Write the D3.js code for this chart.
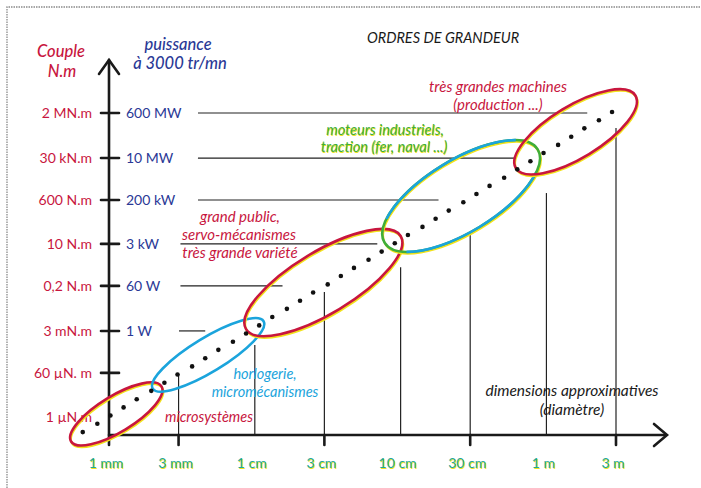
<!DOCTYPE html>
<html><head><meta charset="utf-8">
<script src="https://cdn.jsdelivr.net/npm/d3@7"></script>
<style>
html,body{margin:0;padding:0;background:#fff;}
svg{display:block;font-family:Lato,'Open Sans',sans-serif;}
</style></head>
<body><svg id="c" width="701" height="488"></svg>
<script>
// ---------- DATA ----------
const sizeTicks = [1, 3, 10, 30, 100, 300, 1000, 3000];               // mm
const sizeLabels = ["1 mm","3 mm","1 cm","3 cm","10 cm","30 cm","1 m","3 m"];
const sizeTickMark = [false, true, false, true, false, true, false, true];
const sizeGuideTop = [null, -4.27, -3.09, -0.95, 0.06, 1.36, 3.06, 5.69]; // log10 N.m

const torqueTicks = [1e-6, 6e-5, 3e-3, 0.2, 10, 600, 3e4, 2e6];       // N.m
const torqueLabels = ["1 µN.m","60 µN. m","3 mN.m","0,2 N.m","10 N.m","600 N.m","30 kN.m","2 MN.m"];
const torqueTickMark = [false, true, true, true, true, true, true, true];
const powerLabels = ["", "", "1 W", "60 W", "3 kW", "200 kW", "10 MW", "600 MW"];
const powerGuideStart = [null, null, 0.48, 0.49, 0.49, 0.61, 0.61, 0.61]; // log10 mm
const powerGuideEnd   = [null, null, 0.66, 1.19, 1.84, 2.26, 2.78, 3.28]; // log10 mm

// dotted trend (log10 mm, log10 N.m)
const dotLogSize = [-0.18,-0.08,0.01,0.10,0.19,0.29,0.38,0.47,0.57,0.66,0.75,0.85,0.94,1.03,1.12,1.22,1.31,1.40,1.50,1.59,
                    1.68,1.78,1.87,1.96,2.05,2.15,2.24,2.33,2.43,2.52,2.61,2.71,2.80,2.89,2.98,3.08,3.17,3.26,3.36,3.45];
const dotLogTorque = [-6.62,-6.28,-5.95,-5.62,-5.29,-4.95,-4.62,-4.29,-3.96,-3.63,-3.29,-2.96,-2.63,-2.30,-1.96,-1.63,-1.30,-0.97,-0.64,-0.30,
                      0.03,0.36,0.69,1.03,1.36,1.69,2.02,2.35,2.69,3.02,3.35,3.68,4.02,4.35,4.68,5.01,5.34,5.68,6.01,6.34];

// domains of application: major-axis ends (log10 mm, log10 N.m)
const domainNames = ["microsystèmes","horlogerie","grand public","moteurs industriels","très grandes machines"];
const domainSizeFrom   = [-0.26, 0.30, 0.94, 1.89, 2.79];
const domainSizeTo     = [ 0.36, 1.06, 2.00, 2.94, 3.61];
const domainTorqueFrom = [-7.00,-4.86,-2.45, 1.05, 4.07];
const domainTorqueTo   = [-4.77,-2.13, 1.32, 4.83, 7.01];

// ---------- STYLE ----------
const RED = "#c8163e", BLUE = "#2a3996", CYAN = "#1ba4dc", GREEN = "#3fae3a", YEL = "#f2e21c", TEAL = "#1ea79a";
const domainColor = [RED, CYAN, RED, "mix", RED];
const domainThickness = [18, 17, 31, 36, 26];

const svg = d3.select("#c");
const x = d3.scaleLinear().domain([0, Math.log10(3000)]).range([109, 616]);
const y = d3.scaleLinear().domain([-6, Math.log10(2e6)]).range([416.8, 113]);
const X = v => x(Math.log10(v)), Y = v => y(Math.log10(v));
const x0 = x(0), yBase = 435;

// frame
svg.append("path").attr("d", d3.line()([[7,488],[7,7],[701,7]]))
  .attr("fill","none").attr("stroke","#8a8a8a").attr("stroke-width",1.3).attr("stroke-dasharray","1.5 1");

// guide lines
const gH = svg.append("g").attr("stroke","#222").attr("stroke-width",1.2);
torqueTicks.forEach((t,i)=>{
  if(powerGuideEnd[i]==null) return;
  gH.append("line").attr("x1", x(powerGuideStart[i])).attr("x2", x(powerGuideEnd[i]))
    .attr("y1", Y(t)).attr("y2", Y(t));
});
sizeTicks.forEach((s,i)=>{
  if(sizeGuideTop[i]==null) return;
  gH.append("line").attr("x1", X(s)).attr("x2", X(s)).attr("y1", y(sizeGuideTop[i])).attr("y2", yBase);
});

// axes
const ax = svg.append("g").attr("stroke","#1a1a1a").attr("stroke-width",2.6).attr("fill","none").attr("stroke-linecap","round");
ax.append("line").attr("x1",x0).attr("x2",x0).attr("y1",60).attr("y2",445);
ax.append("path").attr("d", d3.line()([[x0-10,74],[x0,60],[x0+10,74]])).attr("stroke-linejoin","miter");
ax.append("line").attr("x1",x0).attr("x2",666).attr("y1",yBase).attr("y2",yBase);
ax.append("path").attr("d", d3.line()([[654,424],[667,435],[654,446]]));
torqueTicks.forEach((t,i)=>{ if(torqueTickMark[i]) ax.append("line").attr("x1",x0-8).attr("x2",x0+10).attr("y1",Y(t)).attr("y2",Y(t)); });
sizeTicks.forEach((s,i)=>{ if(sizeTickMark[i]) ax.append("line").attr("x1",X(s)).attr("x2",X(s)).attr("y1",yBase).attr("y2",yBase+10); });

// tick labels
const tl = svg.append("g").attr("font-size",14);
torqueTicks.forEach((t,i)=>{
  tl.append("text").attr("x",92).attr("y",Y(t)+5).attr("text-anchor","end").attr("fill",RED).text(torqueLabels[i]);
  if(powerLabels[i]) tl.append("text").attr("x",126).attr("y",Y(t)+5).attr("fill",BLUE).text(powerLabels[i]);
});
sizeTicks.forEach((s,i)=>{
  const g = tl.append("g");
  g.append("text").attr("x",X(s)-2).attr("y",469).attr("text-anchor","middle").attr("fill",YEL).text(sizeLabels[i]);
  g.append("text").attr("x",X(s)-3).attr("y",468).attr("text-anchor","middle").attr("fill",TEAL).text(sizeLabels[i]);
});

// ellipses
domainNames.forEach((n,i)=>{
  const ax0 = x(domainSizeFrom[i]), ay0 = y(domainTorqueFrom[i]);
  const ax1 = x(domainSizeTo[i]), ay1 = y(domainTorqueTo[i]);
  const cx=(ax0+ax1)/2, cy=(ay0+ay1)/2, rx=Math.hypot(ax1-ax0, ay1-ay0)/2, ry=domainThickness[i];
  const ang = Math.atan2(ay1-ay0, ax1-ax0)*180/Math.PI;
  const mk = (dx,dy,col,w)=> svg.append("ellipse").attr("cx",cx+dx).attr("cy",cy+dy).attr("rx",rx).attr("ry",ry)
      .attr("transform",`rotate(${ang} ${cx+dx} ${cy+dy})`).attr("fill","none").attr("stroke",col).attr("stroke-width",w);
  if(domainColor[i]!==CYAN) mk(0.8,1.6,YEL,2.2);
  if(domainColor[i]==="mix"){
    mk(0,0,GREEN,2.6);
    mk(0,0,CYAN,2.6).attr("pathLength",100).attr("stroke-dasharray","0 6 38 12 38 6");
  } else mk(0,0,domainColor[i],2.6);
});

// dots
svg.append("g").selectAll("circle").data(dotLogSize).join("circle")
  .attr("cx",(d)=>x(d)).attr("cy",(d,i)=>y(dotLogTorque[i])).attr("r",2.3).attr("fill","#111");

// texts
function txt(s, xx, yy, col, size, opts={}){
  const t = svg.append("text").attr("x",xx).attr("y",yy).attr("fill",col).attr("font-size",size)
    .attr("text-anchor",opts.anchor||"middle").attr("font-style",opts.italic===false?"normal":"italic")
    .attr("font-weight",opts.weight||400).text(s);
  return t;
}
function shadowTxt(s,xx,yy,col,size){ txt(s,xx+0.8,yy+1.2,YEL,size); txt(s,xx,yy,col,size); }

txt("Couple",61,57,RED,16.5,{weight:500});
txt("N.m",62,77,RED,16.5,{weight:500});
txt("puissance",178,50,BLUE,16.5,{weight:500});
txt("à 3000 tr/mn",180,69,BLUE,16.5,{weight:500});
txt("ORDRES DE GRANDEUR",443,43,"#1a1a1a",14.5);
txt("très grandes machines",498,92,RED,15);
txt("(production ...)",498,110,RED,15);
shadowTxt("moteurs industriels,",385,135,GREEN,14.5);
shadowTxt("traction (fer, naval ...)",384,152,GREEN,14.5);
txt("grand public,",240,222,RED,15);
txt("servo-mécanismes",239,240,RED,15);
txt("très grande variété",240,258,RED,15);
txt("horlogerie,",265,379,CYAN,14.5);
txt("micromécanismes",265,397,CYAN,14.5);
txt("microsystèmes",209,422,RED,14.5);
txt("dimensions approximatives",572,396,"#1a1a1a",15.5);
txt("(diamètre)",572,415,"#1a1a1a",15.5);
</script></body></html>
